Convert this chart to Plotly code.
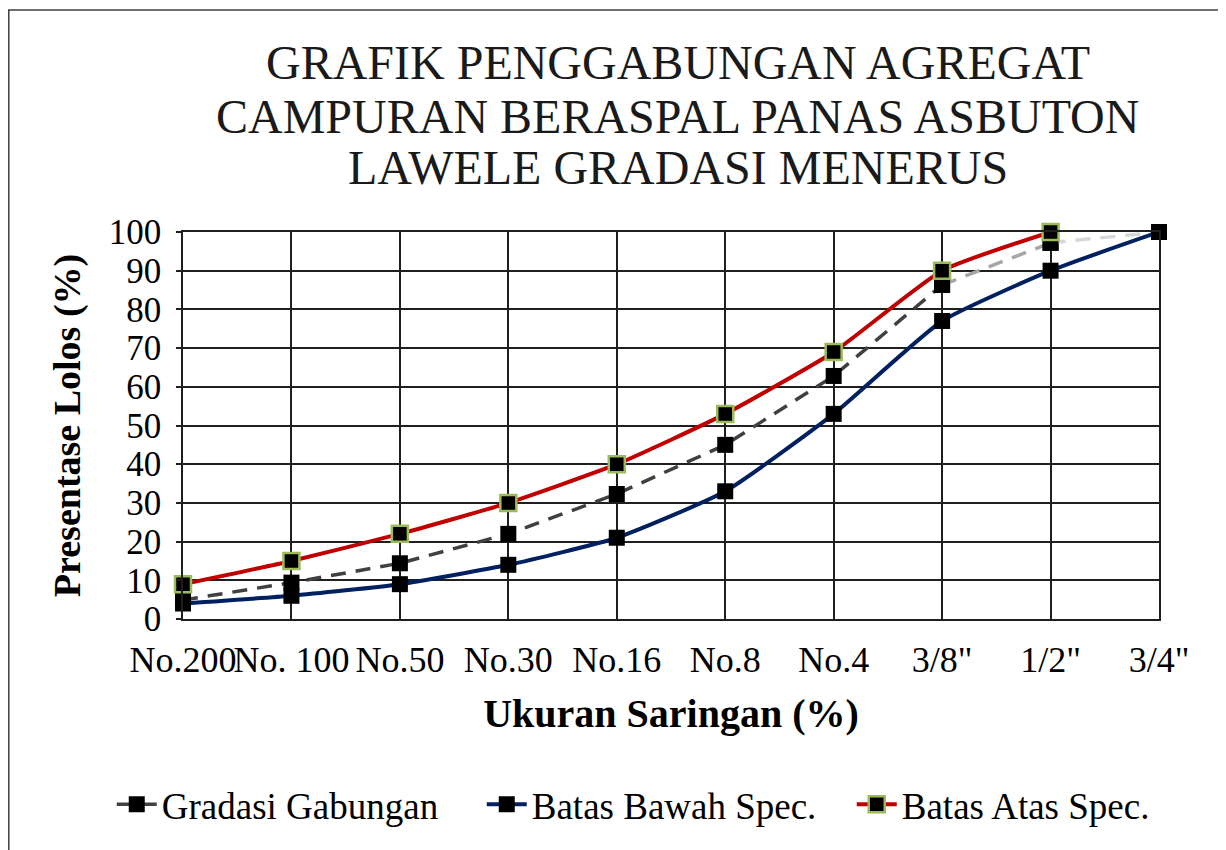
import plotly.graph_objects as go

#-------------------------------------------------------
### DATA ###

saringan = ["No.200", "No. 100", "No.50", "No.30", "No.16", "No.8", "No.4", '3/8"', '1/2"', '3/4"']

gradasi_gabungan = [4.9, 9.4, 14.4, 22.0, 32.3, 45.0, 62.8, 86.3, 97.2, 100.0]
batas_bawah = [4, 6, 9, 14, 21, 33, 53, 77, 90, 100]
batas_atas = [9, 15, 22, 30, 40, 53, 69, 90, 100, None]

judul = ["GRAFIK PENGGABUNGAN AGREGAT",
         "CAMPURAN BERASPAL PANAS ASBUTON",
         "LAWELE GRADASI MENERUS"]

#-------------------------------------------------------
### FIGURE ###

FONT = "Liberation Serif"
GRID = "#1f1f1f"

fig = go.Figure()

# gradasi gabungan, dark part + the fading segments at the top
fig.add_trace(go.Scatter(x=saringan[:8], y=gradasi_gabungan[:8], name="Gradasi Gabungan",
                         mode="lines+markers", cliponaxis=False,
                         line=dict(color="#404040", width=3.5, dash="15px,10px"),
                         marker=dict(symbol="square", size=16, color="black")))
fig.add_trace(go.Scatter(x=saringan[7:9], y=gradasi_gabungan[7:9], showlegend=False,
                         mode="lines+markers", cliponaxis=False, hoverinfo="skip",
                         line=dict(color="#a6a6a6", width=3.5, dash="15px,10px"),
                         marker=dict(symbol="square", size=16, color="black")))
fig.add_trace(go.Scatter(x=saringan[8:], y=gradasi_gabungan[8:], showlegend=False,
                         mode="lines+markers", cliponaxis=False, hoverinfo="skip",
                         line=dict(color="#d3d7dc", width=3.5, dash="15px,10px"),
                         marker=dict(symbol="square", size=16, color="black")))

fig.add_trace(go.Scatter(x=saringan, y=batas_bawah, name="Batas Bawah Spec.",
                         mode="lines+markers", cliponaxis=False,
                         line=dict(color="#002060", width=4, shape="spline", smoothing=0.5),
                         marker=dict(symbol="square", size=16, color="black")))

fig.add_trace(go.Scatter(x=saringan, y=batas_atas, name="Batas Atas Spec.",
                         mode="lines+markers", cliponaxis=False,
                         line=dict(color="#c00000", width=4, shape="spline", smoothing=0.5),
                         marker=dict(symbol="square", size=16, color="black",
                                     line=dict(color="#9bbb59", width=2.5))))

annots = []
for i, baris in enumerate(judul):
    annots.append(dict(text=baris, xref="paper", yref="paper",
                       x=0.507, y=[1.437, 1.299, 1.166][i],
                       xanchor="center", yanchor="middle", showarrow=False,
                       font=dict(family=FONT, size=48, color="#1a1a1a")))

fig.update_layout(width=1226, height=850,
                  margin=dict(l=175, r=75, t=224, b=239),
                  paper_bgcolor="white", plot_bgcolor="white",
                  font=dict(family=FONT, color="black"),
                  annotations=annots,
                  showlegend=True,
                  legend=dict(orientation="h", x=-0.073, y=-0.48,
                              xanchor="left", yanchor="middle",
                              font=dict(family=FONT, size=37, color="black"),
                              itemwidth=40, tracegroupgap=0,
                              entrywidth=315, entrywidthmode="pixels"),
                  shapes=[dict(type="rect", xref="paper", yref="paper",
                               x0=-0.1785, x1=1.12, y0=-0.7, y1=1.5736,
                               line=dict(color="#404040", width=1.5))])

fig.update_xaxes(type="category", range=[0, 9],
                 showgrid=True, gridcolor=GRID, gridwidth=1.5,
                 showline=True, linecolor=GRID, linewidth=1.5, mirror=True,
                 ticks="", ticklabelstandoff=8, tickangle=0,
                 tickfont=dict(family=FONT, size=36, color="black"),
                 title=dict(text="<b>Ukuran Saringan (%)</b>", standoff=20,
                            font=dict(family=FONT, size=40, color="black")))

fig.update_yaxes(range=[0, 100], dtick=10,
                 showgrid=True, gridcolor=GRID, gridwidth=1.5,
                 zeroline=False,
                 showline=True, linecolor=GRID, linewidth=1.5, mirror=True,
                 ticks="outside", ticklen=5, tickcolor=GRID, tickwidth=1.5,
                 ticklabelstandoff=8,
                 tickfont=dict(family=FONT, size=35, color="black"),
                 title=dict(text="<b>Presentase Lolos (%)</b>", standoff=16,
                            font=dict(family=FONT, size=38, color="black")))

#-------------------------------------------------------
### PLOT ###

fig.write_html("out.html")
